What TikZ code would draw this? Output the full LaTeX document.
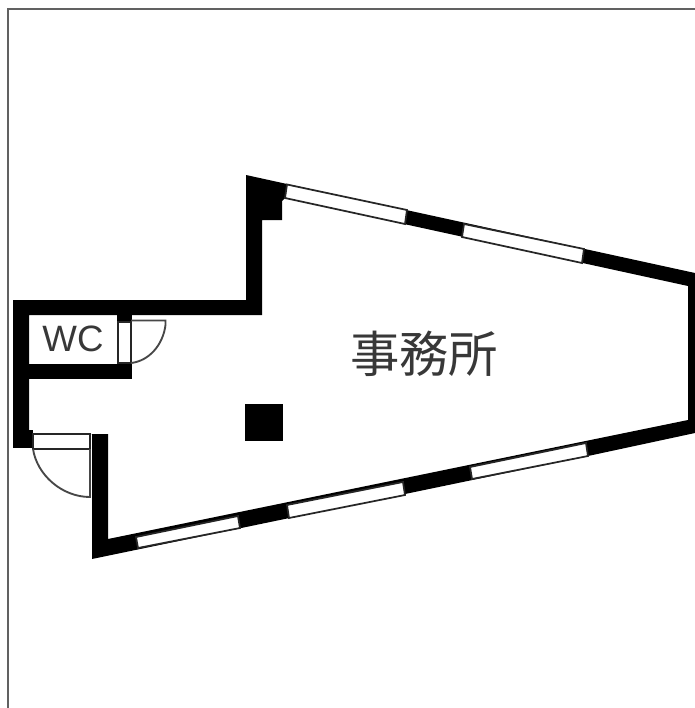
\documentclass[tikz,border=0pt]{standalone}
\usepackage{fontspec}
\setmainfont{Liberation Sans}
\newfontfamily\cjkfont{Noto Sans CJK JP}
\tikzset{
  wall/.style={fill=black,draw=none},
  glass/.style={draw=black!85,line width=1.3pt,fill=white,line join=miter},
  leaf/.style={draw=black!72,line width=1.4pt},
  frameline/.style={draw=black!62,line width=2pt},
  roomlabel/.style={text=black!78,inner sep=0pt,anchor=center}
}
\begin{document}
\begin{tikzpicture}[x=0.75pt,y=-0.75pt]
\useasboundingbox (0,0) rectangle (695,708);
\fill[white] (0,0) rectangle (695,708);
% frame
\draw[frameline] (8,708) -- (8,9) -- (695,9);
% outer wall with interior removed
\fill[wall,even odd rule]
  (246,175) -- (287,184) -- (695,273) -- (695,433) -- (588,456) -- (92,559) -- (92,434) -- (13,434) -- (13,300) -- (246,300) -- cycle
  (262,220) -- (282,220) -- (282,201) -- (285,198) -- (688,286) -- (688,420) -- (108,539) -- (108,434) -- (29,434) -- (29,315) -- (262,315) -- cycle;
% bottom-left corner of the left wall
\fill[wall] (13,430) rectangle (33,448);
% WC walls
\fill[wall] (29,364) rectangle (132,379);
\fill[wall] (117,315) rectangle (132,322);
% windows
\filldraw[glass] (287,184.5) -- (407,210) -- (405,224) -- (285,198) -- cycle;
\filldraw[glass] (464,224) -- (584,249) -- (582,263) -- (462,237) -- cycle;
\filldraw[glass] (136,537) -- (238,516) -- (240,528) -- (138,548) -- cycle;
\filldraw[glass] (287,505) -- (403,482) -- (405,495) -- (289,518) -- cycle;
\filldraw[glass] (470,467) -- (586,443) -- (588,456) -- (472,479) -- cycle;
% WC door
\filldraw[glass,line width=1.2pt] (118,322) rectangle (131,363);
\draw[leaf] (131,320.5) -- (165.5,320.5) -- (165.5,325) .. controls (163,345) and (149,361) .. (131,363);
% entrance door
\filldraw[glass,line width=1.2pt] (33,434) rectangle (90,449);
\draw[leaf] (33,449) .. controls (37,475) and (62,497) .. (90,497) -- (90,449);
\fill[wall] (92,434) rectangle (108,460);
% column
\fill[wall] (245,404) rectangle (283,441);
% labels
\node[roomlabel,font=\fontsize{27.5}{27.5}\selectfont] (wc) at (73,339) {WC};
\node[roomlabel,font=\cjkfont\fontsize{37}{37}\selectfont] (office) at (424,354) {事務所};
\end{tikzpicture}
\end{document}
